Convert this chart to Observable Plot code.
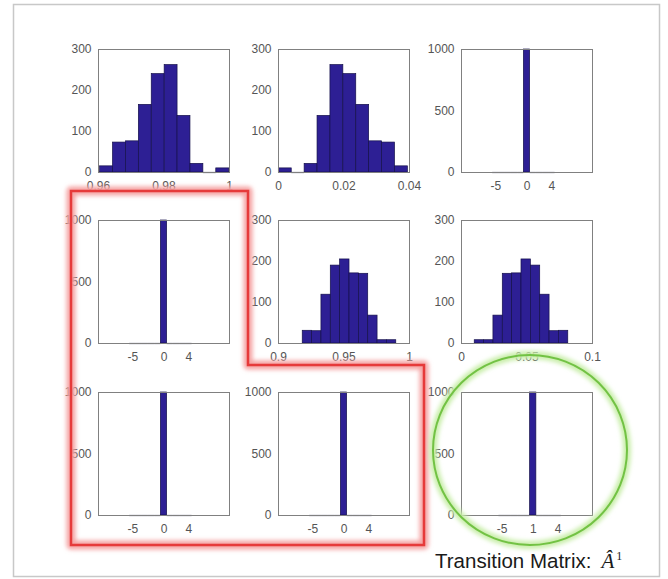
<!DOCTYPE html>
<html><head><meta charset="utf-8">
<script src="https://cdn.jsdelivr.net/npm/d3@7"></script>
<script src="https://cdn.jsdelivr.net/npm/@observablehq/plot@0.6"></script>
<style>
html,body{margin:0;padding:0;background:#fff;}
#root{position:relative;width:668px;height:579px;overflow:hidden;font-family:Arial,"Liberation Sans",sans-serif;background:#fff;}
#root svg.panel{position:absolute;}
#overlay{position:absolute;left:0;top:0;}
</style></head><body><div id="root"></div>
<script>
// ---- data: histogram counts (10 bins each, 1000 samples) ----
const counts11 = [15, 73, 76, 165, 240, 262, 138, 21, 0, 10];
const counts12 = [10, 0, 21, 138, 262, 240, 165, 76, 73, 15];
const counts13 = [0, 0, 0, 0, 0, 1000, 0, 0, 0, 0];
const counts21 = [0, 0, 0, 0, 0, 1000, 0, 0, 0, 0];
const counts22 = [31, 30, 119, 190, 205, 171, 170, 68, 8, 8];
const counts23 = [8, 8, 68, 170, 171, 205, 190, 119, 30, 31];
const counts31 = [0, 0, 0, 0, 0, 1000, 0, 0, 0, 0];
const counts32 = [0, 0, 0, 0, 0, 1000, 0, 0, 0, 0];
const counts33 = [0, 0, 0, 0, 0, 1000, 0, 0, 0, 0];
// sample range (min, max) of each histogram
const range11 = [0.9605, 0.9999];
const range12 = [0.0001, 0.0395];
const range13 = [-5.5, 4.5];
const range21 = [-5.5, 4.5];
const range22 = [0.9185, 0.9899];
const range23 = [0.0101, 0.0815];
const range31 = [-5.5, 4.5];
const range32 = [-5.5, 4.5];
const range33 = [-4.5, 5.5];
// axis limits and ticks
const xLim11 = [0.96, 1], xTicks11 = [0.96, 0.98, 1], xLabels11 = ["0.96", "0.98", "1"];
const xLim12 = [0, 0.04], xTicks12 = [0, 0.02, 0.04], xLabels12 = ["0", "0.02", "0.04"];
const xLim22 = [0.9, 1], xTicks22 = [0.9, 0.95, 1], xLabels22 = ["0.9", "0.95", "1"];
const xLim23 = [0, 0.1], xTicks23 = [0, 0.05, 0.1], xLabels23 = ["0", "0.05", "0.1"];
const xLimSpike = [-10.5, 10.5], xTicksSpike = [-5, 0, 4], xLabelsSpike = ["-5", "0", "4"];
const xTicks33 = [-4, 1, 5], xLabels33 = ["-5", "1", "4"];
const yTicksHist = [0, 100, 200, 300];
const yTicksSpike = [0, 500, 1000];
const captionText = "Transition Matrix:";

// ---- layout ----
const colX = [98, 278, 461];
const rowY = [49, 220, 392];
const boxW = 131, boxH = 123;
const mL = 44, mR = 10, mT = 10, mB = 28;

const panels = [
  {r:0,c:0,counts:counts11,range:range11,xLim:xLim11,xTicks:xTicks11,xLabels:xLabels11,yTicks:yTicksHist},
  {r:0,c:1,counts:counts12,range:range12,xLim:xLim12,xTicks:xTicks12,xLabels:xLabels12,yTicks:yTicksHist},
  {r:0,c:2,counts:counts13,range:range13,xLim:xLimSpike,xTicks:xTicksSpike,xLabels:xLabelsSpike,yTicks:yTicksSpike},
  {r:1,c:0,counts:counts21,range:range21,xLim:xLimSpike,xTicks:xTicksSpike,xLabels:xLabelsSpike,yTicks:yTicksSpike},
  {r:1,c:1,counts:counts22,range:range22,xLim:xLim22,xTicks:xTicks22,xLabels:xLabels22,yTicks:yTicksHist},
  {r:1,c:2,counts:counts23,range:range23,xLim:xLim23,xTicks:xTicks23,xLabels:xLabels23,yTicks:yTicksHist},
  {r:2,c:0,counts:counts31,range:range31,xLim:xLimSpike,xTicks:xTicksSpike,xLabels:xLabelsSpike,yTicks:yTicksSpike},
  {r:2,c:1,counts:counts32,range:range32,xLim:xLimSpike,xTicks:xTicksSpike,xLabels:xLabelsSpike,yTicks:yTicksSpike},
  {r:2,c:2,counts:counts33,range:range33,xLim:xLimSpike,xTicks:xTicks33,xLabels:xLabels33,yTicks:yTicksSpike}
];

const root = document.getElementById("root");

for (const p of panels) {
  const n = p.counts.length;
  const w = (p.range[1] - p.range[0]) / n;
  const bins = p.counts.map((c, i) => ({x1: p.range[0] + i * w, x2: p.range[0] + (i + 1) * w, c}));
  const chart = Plot.plot({
    width: boxW + mL + mR,
    height: boxH + mT + mB,
    marginLeft: mL, marginRight: mR, marginTop: mT, marginBottom: mB,
    style: {fontFamily: 'Arial, "Liberation Sans", sans-serif', fontSize: "12px", color: "#555", background: "transparent", overflow: "visible"},
    x: {domain: p.xLim, label: null},
    y: {domain: [0, p.yTicks[p.yTicks.length - 1]], label: null},
    marks: [
      Plot.ruleY(bins.filter(d => d.c === 0), {x1: "x1", x2: "x2", y: 0, stroke: "#3a3a5a", strokeWidth: 1.2}),
      Plot.rectY(bins.filter(d => d.c > 0), {x1: "x1", x2: "x2", y1: 0, y2: "c", fill: "#2d1f94", stroke: "#15104a", strokeWidth: 0.7, inset: 0}),
      Plot.frame({stroke: "#808080", strokeWidth: 1}),
      Plot.axisX({ticks: p.xTicks, tickFormat: d => p.xLabels[p.xTicks.indexOf(d)], tickSize: 0, tickPadding: 9, label: null}),
      Plot.axisY({ticks: p.yTicks, tickFormat: d => String(d), tickSize: 0, tickPadding: 7, label: null})
    ]
  });
  chart.classList.add("panel");
  chart.style.left = (colX[p.c] - mL) + "px";
  chart.style.top = (rowY[p.r] - mT) + "px";
  root.appendChild(chart);
}

// ---- annotation overlay ----
const ns = "http://www.w3.org/2000/svg";
const ov = document.createElementNS(ns, "svg");
ov.setAttribute("id", "overlay");
ov.setAttribute("width", 668);
ov.setAttribute("height", 579);
ov.innerHTML = `
<defs>
  <filter id="glow" x="-20%" y="-20%" width="140%" height="140%"><feGaussianBlur stdDeviation="2.2"/></filter>
</defs>
<rect x="13.5" y="4.5" width="646" height="572" fill="none" stroke="#c8c8c8" stroke-width="1.5"/>
<polygon points="71,191 248,191 248,365 424,365 424,545 71,545" fill="none" stroke="#f5a3a3" stroke-width="9" filter="url(#glow)" stroke-linejoin="round"/>
<polygon points="71,191 248,191 248,365 424,365 424,545 71,545" fill="none" stroke="#e63a3a" stroke-width="2.5"/>
<ellipse cx="530" cy="450" rx="97" ry="95" fill="none" stroke="#c9eeaa" stroke-width="8" filter="url(#glow)"/>
<ellipse cx="530" cy="450" rx="97" ry="95" fill="none" stroke="#72c244" stroke-width="2"/>
<text x="435" y="568" font-family="Arial, 'Liberation Sans', sans-serif" font-size="20.5" fill="#1a1a1a">${captionText}<tspan dx="10" font-family="'Liberation Serif', serif" font-style="italic" font-size="21">Â</tspan><tspan dx="2" dy="-8" font-family="'Liberation Serif', serif" font-size="12">1</tspan></text>
`;
root.appendChild(ov);
</script>
</body></html>
